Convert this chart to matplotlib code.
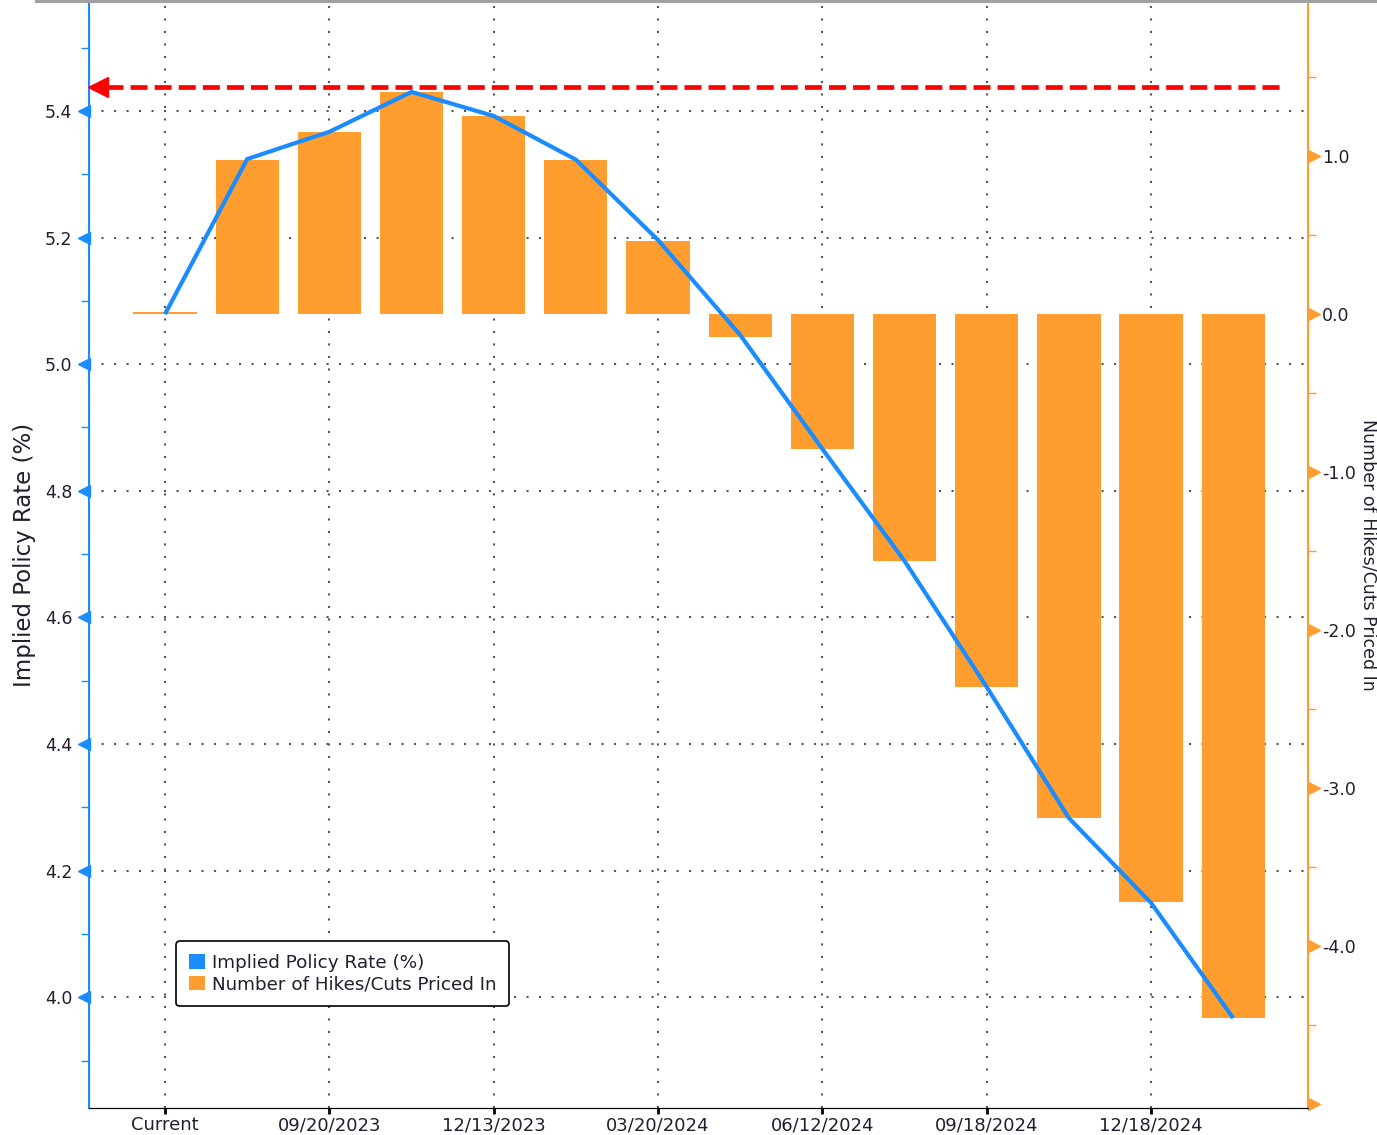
import numpy as np
import matplotlib.pyplot as plt
from matplotlib.patches import Patch
from matplotlib.ticker import MultipleLocator
import matplotlib.transforms as mtransforms

# ========== data ==========
meetings = ["Current", "07/26/2023", "09/20/2023", "11/01/2023", "12/13/2023",
            "01/31/2024", "03/20/2024", "05/01/2024", "06/12/2024", "07/31/2024",
            "09/18/2024", "11/07/2024", "12/18/2024", "01/29/2025"]
implied_rate = [5.079, 5.324, 5.367, 5.430, 5.392, 5.323, 5.196, 5.046,
                4.866, 4.689, 4.490, 4.283, 4.149, 3.967]
hikes_cuts = [0.01, 0.975, 1.152, 1.405, 1.253, 0.975, 0.462, -0.146,
              -0.854, -1.563, -2.361, -3.19, -3.72, -4.456]
current_rate = 5.438
tick_labels = ["Current", "09/20/2023", "12/13/2023", "03/20/2024",
               "06/12/2024", "09/18/2024", "12/18/2024"]

BLUE = "#1a8cff"
ORANGE = "#ff9d2e"
TXT = "#1f1f2e"

plt.rcParams['font.family'] = ['DejaVu Sans']

fig = plt.figure(figsize=(13.77, 11.35), dpi=100)
ax = fig.add_axes([89/1377, 27/1135, (1308-89)/1377, (1108-2)/1135])
ax2 = ax.twinx()

x = np.arange(len(meetings))

# ========== left axis: implied rate ==========
ax.set_ylim(3.825, 5.572)
ax.set_xlim(-0.925, 13.91)
ax.yaxis.set_major_locator(MultipleLocator(0.2))
ax.yaxis.set_minor_locator(MultipleLocator(0.1))
ax.set_xticks(x[::2])
ax.set_xticklabels(tick_labels, fontsize=13, color=TXT)
ax.tick_params(axis='x', length=4, width=2, color='black', pad=2)
ax.tick_params(axis='y', which='major', length=0, labelsize=12.5, labelcolor=TXT, pad=12)
ax.tick_params(axis='y', which='minor', length=6, color=BLUE, width=1)
ax.yaxis.set_major_formatter(plt.FuncFormatter(lambda v, p: f"{v:.1f}"))
ax.grid(True, which='major', linestyle=(0, (1, 5)), color='#555555', linewidth=1.5)
ax.set_ylabel("Implied Policy Rate (%)", fontsize=16.5, color=TXT, labelpad=6)

# ========== right axis: hikes / cuts ==========
ax2.set_ylim(-5.025, 1.975)
ax2.yaxis.set_major_locator(MultipleLocator(1.0))
ax2.yaxis.set_minor_locator(MultipleLocator(0.5))
ax2.yaxis.set_major_formatter(
    plt.FuncFormatter(lambda v, p: "" if v < -4.5 else f"{v:.1f}"))
ax2.tick_params(axis='y', which='major', length=0, labelsize=12.5, labelcolor=TXT, pad=10)
ax2.tick_params(axis='y', which='minor', length=6, color=ORANGE, width=1)
# label squeezed against the right edge (it is cut off in the original screenshot)
fig.text(1368/1377, 1 - 555/1135, "Number of Hikes/Cuts Priced In", fontsize=12.5,
         color=TXT, rotation=270, ha='center', va='center')

# triangle markers on the major ticks
trans_l = mtransforms.blended_transform_factory(ax.transAxes, ax.transData)
for v in np.arange(4.0, 5.41, 0.2):
    ax.plot([-0.004], [v], marker='<', color=BLUE, markersize=8,
            transform=trans_l, clip_on=False)
trans_r = mtransforms.blended_transform_factory(ax2.transAxes, ax2.transData)
for v in np.arange(-5.0, 1.1, 1.0):
    ax2.plot([1.005], [v], marker='>', color=ORANGE, markersize=8,
             transform=trans_r, clip_on=False)

for s in ['top']:
    ax.spines[s].set_visible(False)
    ax2.spines[s].set_visible(False)
ax2.spines['left'].set_color(BLUE)
ax2.spines['left'].set_linewidth(1.5)
ax2.spines['right'].set_color(ORANGE)
ax2.spines['right'].set_linewidth(1.5)
ax2.spines['bottom'].set_color('black')
ax.spines['left'].set_color(BLUE)
ax.spines['right'].set_color(ORANGE)

# ========== bars, line, current-rate arrow ==========
ax2.bar(x, hikes_cuts, width=0.77, color=ORANGE, zorder=2)
ax2.plot(x, implied_rate, color=BLUE, linewidth=3, transform=ax.transData,
         zorder=3, solid_capstyle='butt')
ax2.plot([-0.72, 13.57], [current_rate, current_rate], color='#ff0000', linewidth=3.4,
         dashes=(3.6, 1.5), transform=ax.transData, zorder=3)
ax2.plot([-0.82], [current_rate], marker='<', color='#ff0000', markersize=14,
         transform=ax.transData, zorder=3, clip_on=False)

# ========== legend ==========
handles = [Patch(facecolor=BLUE, label="Implied Policy Rate (%)"),
           Patch(facecolor=ORANGE, label="Number of Hikes/Cuts Priced In")]
leg = ax2.legend(handles=handles, loc='lower left', bbox_to_anchor=(0.0715, 0.092),
                 fontsize=13.2, handlelength=0.85, handleheight=0.85, handletextpad=0.4,
                 borderpad=0.7, labelspacing=0.2, frameon=True, fancybox=True,
                 edgecolor='black', framealpha=1, borderaxespad=0)
leg.get_frame().set_linewidth(1.2)
for t in leg.get_texts():
    t.set_color(TXT)

# grey strip along the top
fig.add_artist(plt.Line2D([0.027, 1], [0.999, 0.999], transform=fig.transFigure,
                          color='#a0a0a0', linewidth=3))

plt.savefig("out.png", dpi=100)
